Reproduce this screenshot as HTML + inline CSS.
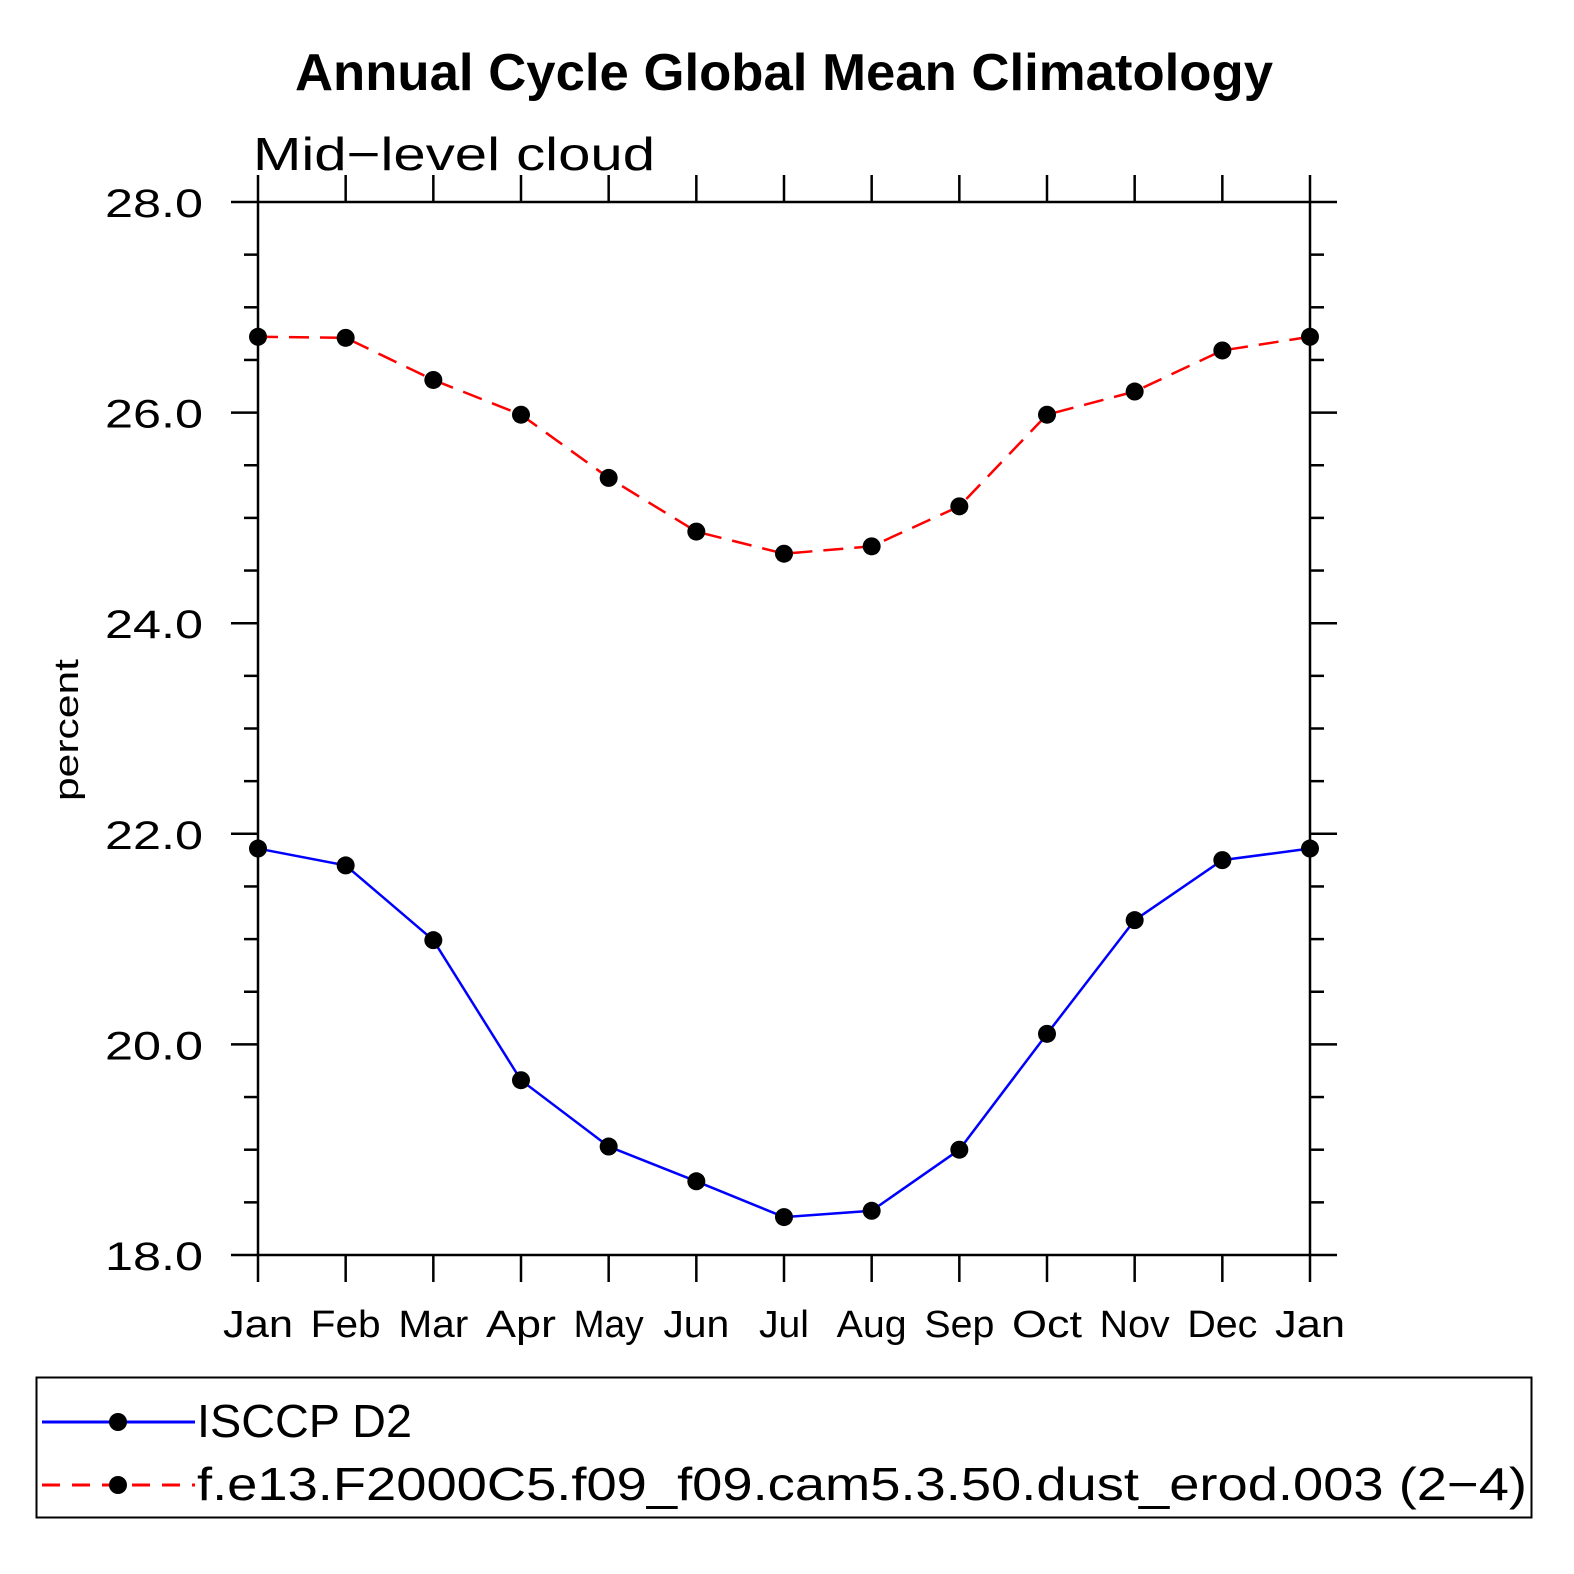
<!DOCTYPE html>
<html><head><meta charset="utf-8"><style>body{margin:0;background:#fff}svg{display:block}</style></head>
<body>
<svg id="chart" width="1574" height="1574" xmlns="http://www.w3.org/2000/svg" font-family="Liberation Sans, sans-serif">
<rect width="1574" height="1574" fill="#fff"/>
<text x="784" y="90" text-anchor="middle" font-size="52" font-weight="bold" textLength="978" lengthAdjust="spacingAndGlyphs">Annual Cycle Global Mean Climatology</text>
<text x="253" y="170" font-size="46" textLength="402" lengthAdjust="spacingAndGlyphs">Mid−level cloud</text>
<text transform="translate(78,730) rotate(-90)" text-anchor="middle" font-size="34" textLength="142" lengthAdjust="spacingAndGlyphs">percent</text>
<g id="axes"></g>
<g id="series"></g>
<g>
<rect x="36.5" y="1377.5" width="1495" height="140" fill="none" stroke="#000" stroke-width="2"/>
<line x1="42" y1="1422" x2="195" y2="1422" stroke="#00f" stroke-width="3"/>
<circle cx="118" cy="1422" r="9"/>
<text x="197" y="1437" font-size="46" textLength="215" lengthAdjust="spacingAndGlyphs">ISCCP D2</text>
<line x1="42" y1="1485" x2="195" y2="1485" stroke="#f00" stroke-width="3" stroke-dasharray="18,12"/>
<circle cx="118" cy="1485" r="9"/>
<text x="197" y="1500" font-size="46" textLength="1330" lengthAdjust="spacingAndGlyphs">f.e13.F2000C5.f09_f09.cam5.3.50.dust_erod.003 (2−4)</text>
</g>
</svg>
<script>
const months=["Jan","Feb","Mar","Apr","May","Jun","Jul","Aug","Sep","Oct","Nov","Dec","Jan"];
const isccp=[21.86,21.70,20.99,19.66,19.03,18.70,18.36,18.42,19.00,20.10,21.18,21.75,21.86];
const model=[26.72,26.71,26.31,25.98,25.38,24.87,24.66,24.73,25.11,25.98,26.20,26.59,26.72];
const yTicks=["18.0","20.0","22.0","24.0","26.0","28.0"];
const NS="http://www.w3.org/2000/svg";
const X0=258,X1=1310,Y0=1255,Y1=202,YMIN=18,YMAX=28;
const xs=i=>X0+(X1-X0)*i/(months.length-1);
const ys=v=>Y0-(Y0-Y1)*(v-YMIN)/(YMAX-YMIN);
function mk(t,a,p){const e=document.createElementNS(NS,t);for(const k in a)e.setAttribute(k,a[k]);p.appendChild(e);return e;}
const ax=document.getElementById('axes'),se=document.getElementById('series');
const frame=mk('rect',{x:X0,y:Y1,width:X1-X0,height:Y0-Y1,fill:'none',stroke:'#000','stroke-width':2.5},ax);


for(let v=YMIN;v<=YMAX+1e-9;v+=0.5){
 const y=ys(v),major=Math.abs(v/2-Math.round(v/2))<1e-9,L=major?27:14;
 mk('line',{x1:X0-L,y1:y,x2:X0,y2:y,stroke:'#000','stroke-width':2.5},ax);
 mk('line',{x1:X1,y1:y,x2:X1+L,y2:y,stroke:'#000','stroke-width':2.5},ax);
}
yTicks.forEach(s=>{
 const t=mk('text',{x:203,y:ys(parseFloat(s))+15,'text-anchor':'end','font-size':40,textLength:98,lengthAdjust:'spacingAndGlyphs'},ax);
 t.textContent=s;
 
 
});
months.forEach((m,i)=>{
 const x=xs(i);
 mk('line',{x1:x,y1:Y0,x2:x,y2:Y0+27,stroke:'#000','stroke-width':2.5},ax);
 mk('line',{x1:x,y1:Y1-27,x2:x,y2:Y1,stroke:'#000','stroke-width':2.5},ax);
 const w=(m==="Jul")?50:(m==="Jun"?66:70);
 const t=mk('text',{x:x,y:1337,'text-anchor':'middle','font-size':38,textLength:w,lengthAdjust:'spacingAndGlyphs'},ax);
 t.textContent=m;
 
 
});
function series(vals,color,dash,name){
 const p=mk('polyline',{points:vals.map((v,i)=>xs(i)+','+ys(v)).join(' '),fill:'none',stroke:color,'stroke-width':2.5},se);
 if(dash)p.setAttribute('stroke-dasharray',dash);
 
 
 vals.forEach((v,i)=>{
  const c=mk('circle',{cx:xs(i),cy:ys(v),r:9,fill:'#000'},se);
  
  
 });
}
series(model,'#f00','20,11','model');
series(isccp,'#00f',null,'isccp');
</script>
</body></html>
